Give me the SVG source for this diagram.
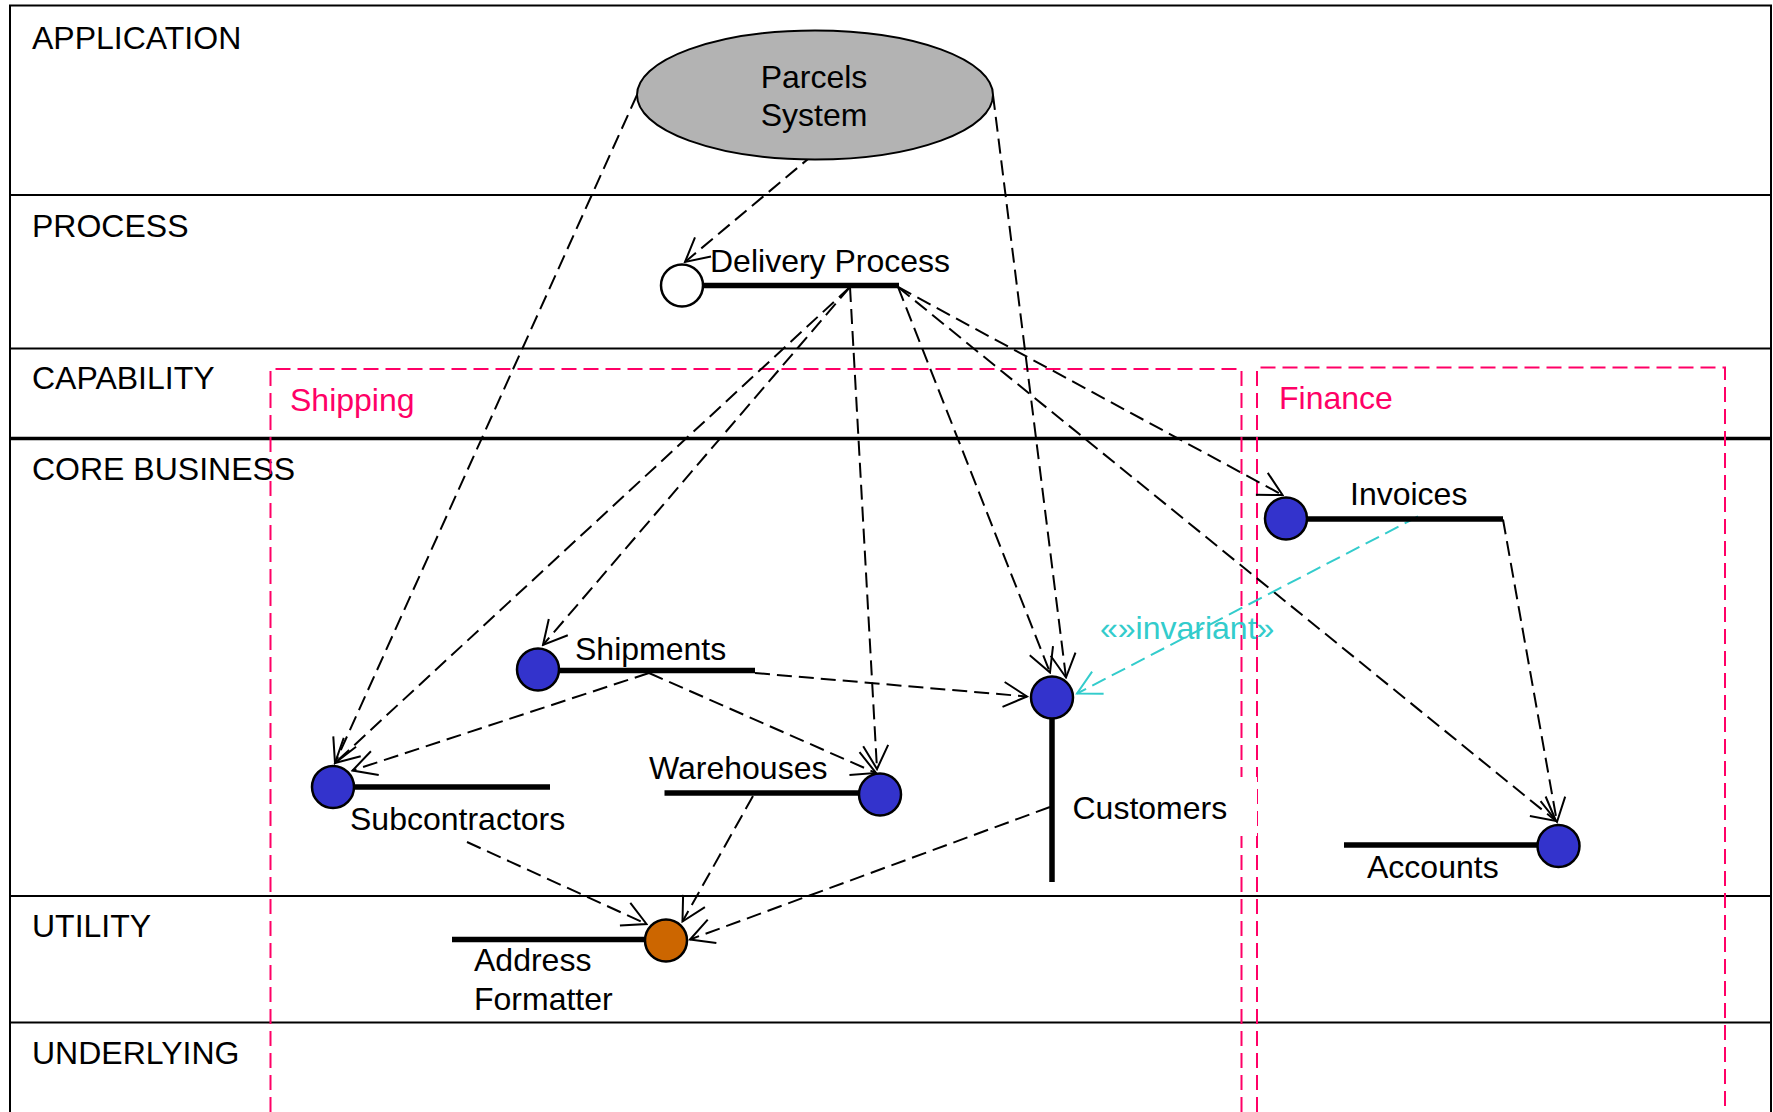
<svg xmlns="http://www.w3.org/2000/svg" width="1773" height="1112" viewBox="0 0 1773 1112">
  <style>
    text { font-family: "Liberation Sans", Arial, sans-serif; font-size: 32px; fill: #000; }
    .lane { stroke: #000; stroke-width: 2; fill: none; }
    .lane-thick { stroke: #000; stroke-width: 3.5; fill: none; }
    .pkg { stroke: #ff0066; stroke-width: 2; fill: none; stroke-dasharray: 15 7; }
    .pkg-label { fill: #ff0066; }
    .comp { fill: #3333cc; stroke: #000; stroke-width: 2.5; }
    .util { fill: #cc6600; stroke: #000; stroke-width: 2.5; }
    .bar { stroke: #000; stroke-width: 5.5; fill: none; }
    .dep { stroke: #000; stroke-width: 2; fill: none; stroke-dasharray: 15 7; marker-end: url(#open); }
    .inv { stroke: #33cccc; stroke-width: 2; fill: none; stroke-dasharray: 15 7; marker-end: url(#open-cyan); }
    .inv-label { fill: #33cccc; }
  </style>
  <defs>
    <marker id="open" viewBox="-26 -15 28 30" refX="0" refY="0" markerWidth="28" markerHeight="30" markerUnits="userSpaceOnUse" orient="auto">
      <path d="M-23.5 -12.5 L0 0 L-23.5 12.5" fill="none" stroke="#000" stroke-width="2"/>
    </marker>
    <marker id="open-cyan" viewBox="-26 -15 28 30" refX="0" refY="0" markerWidth="28" markerHeight="30" markerUnits="userSpaceOnUse" orient="auto">
      <path d="M-23.5 -12.5 L0 0 L-23.5 12.5" fill="none" stroke="#33cccc" stroke-width="2"/>
    </marker>
  </defs>

  <rect x="0" y="0" width="1773" height="1112" fill="#fff"/>

  <!-- layer swimlanes -->
  <g id="lanes">
    <path class="lane" d="M10 1112 V5.5 H1771 V1112"/>
    <line class="lane" x1="10" y1="195" x2="1771" y2="195"/>
    <line class="lane" x1="10" y1="348.5" x2="1771" y2="348.5"/>
    <line class="lane-thick" x1="10" y1="438.5" x2="1771" y2="438.5"/>
    <line class="lane" x1="10" y1="896" x2="1771" y2="896"/>
    <line class="lane" x1="10" y1="1022.5" x2="1771" y2="1022.5"/>
    <text x="32" y="48.5">APPLICATION</text>
    <text x="32" y="236.5">PROCESS</text>
    <text x="32" y="389">CAPABILITY</text>
    <text x="32" y="479.5">CORE BUSINESS</text>
    <text x="32" y="937">UTILITY</text>
    <text x="32" y="1064">UNDERLYING</text>
  </g>

  <!-- capability packages -->
  <g id="pkg-shipping">
    <path class="pkg" d="M270.5 1112 V369 H1241.5 V1112"/>
    <text class="pkg-label" x="290" y="411">Shipping</text>
  </g>
  <g id="pkg-finance">
    <path class="pkg" d="M1257 1112 V367.5 H1725 V1112"/>
    <text class="pkg-label" x="1279" y="409">Finance</text>
  </g>

  <!-- dependencies -->
  <g id="connectors">
    <line class="dep" x1="814" y1="154" x2="685" y2="262"/>
    <line class="dep" x1="637" y1="95" x2="335" y2="763"/>
    <line class="dep" x1="993" y1="95" x2="1066" y2="677.5"/>
    <line class="dep" x1="850" y1="287" x2="335" y2="763"/>
    <line class="dep" x1="850" y1="287" x2="543" y2="645"/>
    <line class="dep" x1="850" y1="287" x2="877" y2="769"/>
    <line class="dep" x1="898" y1="287" x2="1050" y2="672.5"/>
    <line class="dep" x1="898" y1="287" x2="1282.5" y2="495"/>
    <line class="dep" x1="898" y1="287" x2="1556" y2="821"/>
    <line class="dep" x1="649" y1="673" x2="352.5" y2="770.5"/>
    <line class="dep" x1="649" y1="673" x2="876" y2="773"/>
    <line class="dep" x1="755" y1="673" x2="1027" y2="696.5"/>
    <line class="dep" x1="467" y1="842" x2="646.5" y2="924"/>
    <line class="dep" x1="753" y1="796" x2="682.5" y2="921.5"/>
    <line class="dep" x1="1050" y1="807" x2="690" y2="939.5"/>
    <line class="dep" x1="1503" y1="519.5" x2="1557" y2="822"/>
    <line class="inv" x1="1418" y1="516.5" x2="1077" y2="693.5"/>
    <text class="inv-label" x="1100" y="639">«»invariant»</text>
  </g>

  <!-- application -->
  <g id="parcels-system">
    <ellipse cx="815" cy="95" rx="178" ry="64.5" fill="#b3b3b3" stroke="#000" stroke-width="2"/>
    <text x="814" y="88" text-anchor="middle">Parcels</text>
    <text x="814" y="125.5" text-anchor="middle">System</text>
  </g>

  <!-- process -->
  <g id="delivery-process">
    <line class="bar" x1="702" y1="285.5" x2="899" y2="285.5"/>
    <circle cx="682" cy="285.5" r="21" fill="#fff" stroke="#000" stroke-width="2.5"/>
    <text x="710" y="271.5">Delivery Process</text>
  </g>

  <!-- core business -->
  <g id="shipments">
    <line class="bar" x1="558" y1="670.5" x2="755" y2="670.5"/>
    <circle class="comp" cx="538" cy="669.5" r="21"/>
    <text x="575" y="660">Shipments</text>
  </g>
  <g id="subcontractors">
    <line class="bar" x1="353" y1="787" x2="550" y2="787"/>
    <circle class="comp" cx="333" cy="787" r="21"/>
    <text x="350" y="830">Subcontractors</text>
  </g>
  <g id="warehouses">
    <line class="bar" x1="664.5" y1="793" x2="860" y2="793"/>
    <circle class="comp" cx="880" cy="794.5" r="21"/>
    <text x="649" y="779">Warehouses</text>
  </g>
  <g id="customers">
    <rect x="1066" y="777" width="191" height="59" fill="#fff"/>
    <line class="bar" x1="1052" y1="717" x2="1052" y2="882"/>
    <circle class="comp" cx="1052" cy="697.5" r="21"/>
    <text x="1072.5" y="818.5">Customers</text>
  </g>
  <g id="invoices">
    <line class="bar" x1="1306" y1="519" x2="1503" y2="519"/>
    <circle class="comp" cx="1286" cy="518.5" r="21"/>
    <text x="1350" y="504.5">Invoices</text>
  </g>
  <g id="accounts">
    <line class="bar" x1="1344" y1="845" x2="1539" y2="845"/>
    <circle class="comp" cx="1558.5" cy="846" r="21"/>
    <text x="1367" y="877.5">Accounts</text>
  </g>

  <!-- utility -->
  <g id="address-formatter">
    <line class="bar" x1="452" y1="939.5" x2="647" y2="939.5"/>
    <circle class="util" cx="666" cy="940.5" r="21"/>
    <text x="474" y="971">Address</text>
    <text x="474" y="1010">Formatter</text>
  </g>
</svg>
